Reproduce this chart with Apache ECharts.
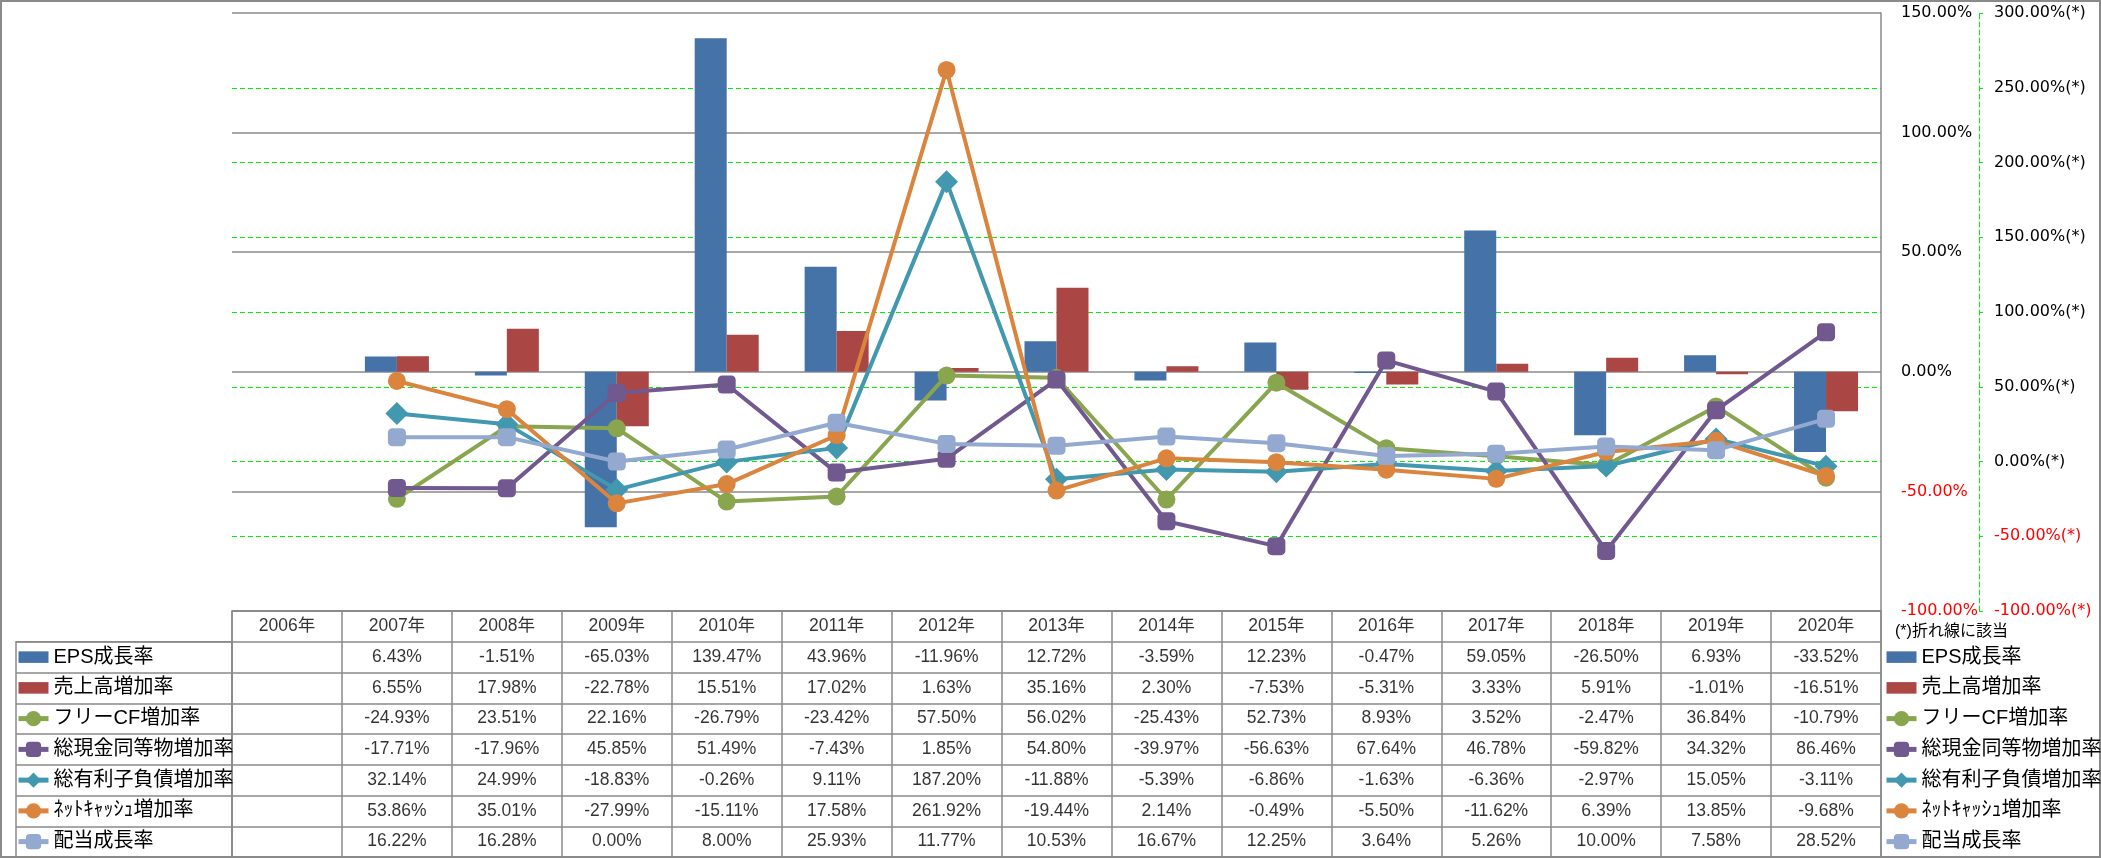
<!DOCTYPE html>
<html><head><meta charset="utf-8">
<script src="https://cdn.jsdelivr.net/npm/echarts@6/dist/echarts.min.js"></script>
<style>html,body{margin:0;padding:0;background:#fff}#c{width:2101px;height:858px}</style>
</head><body><div id="c"></div>
<script>
// ---- data ----
const years = ['2006年','2007年','2008年','2009年','2010年','2011年','2012年','2013年','2014年','2015年','2016年','2017年','2018年','2019年','2020年'];
const seriesNames = ['EPS成長率','売上高増加率','フリーCF増加率','総現金同等物増加率','総有利子負債増加率','ﾈｯﾄｷｬｯｼｭ増加率','配当成長率'];
const epsGrowth   = [null, 6.43, -1.51, -65.03, 139.47, 43.96, -11.96, 12.72, -3.59, 12.23, -0.47, 59.05, -26.50, 6.93, -33.52];
const salesGrowth = [null, 6.55, 17.98, -22.78, 15.51, 17.02, 1.63, 35.16, 2.30, -7.53, -5.31, 3.33, 5.91, -1.01, -16.51];
const fcfGrowth   = [null, -24.93, 23.51, 22.16, -26.79, -23.42, 57.50, 56.02, -25.43, 52.73, 8.93, 3.52, -2.47, 36.84, -10.79];
const cashGrowth  = [null, -17.71, -17.96, 45.85, 51.49, -7.43, 1.85, 54.80, -39.97, -56.63, 67.64, 46.78, -59.82, 34.32, 86.46];
const debtGrowth  = [null, 32.14, 24.99, -18.83, -0.26, 9.11, 187.20, -11.88, -5.39, -6.86, -1.63, -6.36, -2.97, 15.05, -3.11];
const netCashGrowth = [null, 53.86, 35.01, -27.99, -15.11, 17.58, 261.92, -19.44, 2.14, -0.49, -5.50, -11.62, 6.39, 13.85, -9.68];
const dividendGrowth = [null, 16.22, 16.28, 0.00, 8.00, 25.93, 11.77, 10.53, 16.67, 12.25, 3.64, 5.26, 10.00, 7.58, 28.52];
const barAxisTicks = {min: -100, max: 150, interval: 50};
const lineAxisTicks = {min: -100, max: 300, interval: 50};
const noteText = '(*)折れ線に該当';

// ---- styles ----
const allValues = [epsGrowth, salesGrowth, fcfGrowth, cashGrowth, debtGrowth, netCashGrowth, dividendGrowth];
const colors = ['#4572A7','#AA4643','#89A54E','#71588F','#4198AF','#DB843D','#93A9CF'];
const symbols = [null, null, 'circle', 'roundRect', 'diamond', 'circle', 'roundRect'];
const symbolSizes = [0, 0, 18, 18, 23, 18, 18];
const gray = '#8a8a8a';
const green = '#00ee00';
const numFont = '"Liberation Sans", "Noto Sans CJK JP", sans-serif';
const jpFont = '"Liberation Sans Narrow", "Liberation Sans", "Noto Sans CJK JP", sans-serif';
const axisFont = '"DejaVu Sans", sans-serif';

const G = {left: 232, top: 13, width: 1649, height: 598};
const T = {left: 232, top: 611, width: 1649, height: 246};
const rowH = T.height / 8;

const chart = echarts.init(document.getElementById('c'), null, {renderer: 'canvas'});

const series = [];
allValues.forEach((vals, k) => {
  if (k < 2) {
    series.push({
      name: seriesNames[k], type: 'bar', xAxisIndex: 0, yAxisIndex: 0,
      data: vals, barWidth: 32, barGap: '0%', itemStyle: {color: colors[k]}, z: 2
    });
  } else {
    series.push({
      name: seriesNames[k], type: 'line', xAxisIndex: 0, yAxisIndex: 1,
      data: vals, symbol: symbols[k], symbolSize: symbolSizes[k], showAllSymbol: true,
      lineStyle: {color: colors[k], width: 4}, itemStyle: {color: colors[k]}, z: 3 + k
    });
  }
});

// table text
const tableData = [];
years.forEach((y, i) => tableData.push({value: [i, 0], t: y}));
allValues.forEach((vals, k) => {
  vals.forEach((v, i) => {
    if (v !== null) tableData.push({value: [i, k + 1], t: v.toFixed(2) + '%'});
  });
});
series.push({
  name: 'table', type: 'scatter', xAxisIndex: 1, yAxisIndex: 2, silent: true,
  symbol: 'rect', symbolSize: 1, itemStyle: {color: 'rgba(0,0,0,0)'},
  label: {show: true, position: 'inside', color: '#000', fontSize: 17.5, fontFamily: numFont,
    formatter: p => p.data.t},
  data: tableData, z: 10
});
// empty series for label-column grid
series.push({name: 'lbl', type: 'scatter', xAxisIndex: 2, yAxisIndex: 3, data: [], silent: true});

const legendData = seriesNames.map((n, k) => k < 2 ? {name: n, icon: 'path://M0,0H26V10H0Z'} : {name: n});
const legendCommon = {
  orient: 'vertical', padding: 0, itemWidth: 30, itemHeight: 19, itemGap: rowH - 20,
  symbolKeepAspect: true, selectedMode: false,
  lineStyle: {width: 5},
  textStyle: {fontSize: 20, color: '#000', fontFamily: jpFont, lineHeight: 20, height: 20},
  data: legendData
};

const redIfNeg = v => (Number(v) < 0 ? '#ff0000' : '#000000');

chart.setOption({
  animation: false,
  backgroundColor: '#fff',
  grid: [
    {left: G.left, top: G.top, width: G.width, height: G.height, show: false},
    {left: T.left, top: T.top, width: T.width, height: T.height, show: true, borderColor: gray, borderWidth: 1.5, backgroundColor: 'transparent'},
    {left: 16, top: T.top + rowH, width: T.left - 16, height: rowH * 7, show: true, borderColor: gray, borderWidth: 1.5, backgroundColor: 'transparent'}
  ],
  xAxis: [
    {gridIndex: 0, type: 'category', data: years, boundaryGap: true,
      axisLine: {show: false}, axisTick: {show: false}, axisLabel: {show: false}, splitLine: {show: false}},
    {gridIndex: 1, type: 'category', data: years, boundaryGap: true,
      axisLine: {show: false}, axisTick: {show: false}, axisLabel: {show: false},
      splitLine: {show: true, lineStyle: {color: gray, width: 1.5}}},
    {gridIndex: 2, type: 'value', show: false, min: 0, max: 1}
  ],
  yAxis: [
    {gridIndex: 0, type: 'value', position: 'right', min: barAxisTicks.min, max: barAxisTicks.max, interval: barAxisTicks.interval,
      axisLine: {show: true, lineStyle: {color: gray, width: 1.5}}, axisTick: {show: false},
      splitLine: {show: true, lineStyle: {color: gray, width: 1.5}},
      axisLabel: {margin: 20, fontSize: 16, fontFamily: axisFont, color: redIfNeg,
        formatter: v => v.toFixed(2) + '%'}},
    {gridIndex: 0, type: 'value', position: 'right', offset: 98, min: lineAxisTicks.min, max: lineAxisTicks.max, interval: lineAxisTicks.interval,
      axisLine: {show: true, lineStyle: {color: green, width: 1, type: [5, 3]}},
      axisTick: {show: true, length: 4, lineStyle: {color: green, width: 1}},
      splitLine: {show: true, showMinLine: false, showMaxLine: false, lineStyle: {color: green, width: 1, type: [5, 3]}},
      axisLabel: {margin: 15, fontSize: 16, fontFamily: axisFont, color: redIfNeg,
        formatter: v => v.toFixed(2) + '%(*)'}},
    {gridIndex: 1, type: 'category', inverse: true, data: ['h', 'r1', 'r2', 'r3', 'r4', 'r5', 'r6', 'r7'],
      axisLine: {show: false}, axisTick: {show: false}, axisLabel: {show: false},
      splitLine: {show: true, lineStyle: {color: gray, width: 1.5}}},
    {gridIndex: 2, type: 'category', inverse: true, data: ['r1', 'r2', 'r3', 'r4', 'r5', 'r6', 'r7'],
      axisLine: {show: false}, axisTick: {show: false}, axisLabel: {show: false},
      splitLine: {show: true, lineStyle: {color: gray, width: 1.5}}}
  ],
  legend: [
    Object.assign({left: 16, top: T.top + rowH + (rowH - 20) / 2}, legendCommon),
    Object.assign({left: 1884, top: T.top + rowH + (rowH - 20) / 2}, legendCommon)
  ],
  graphic: [
    {type: 'rect', silent: true, shape: {x: 1, y: 1, width: 2099, height: 856},
      style: {fill: 'none', stroke: gray, lineWidth: 2}},
    {type: 'text', silent: true, left: 1895, top: 624,
      style: {text: noteText, fontSize: 16, fontFamily: jpFont, fill: '#000'}}
  ],
  series: series
});
</script></body></html>
